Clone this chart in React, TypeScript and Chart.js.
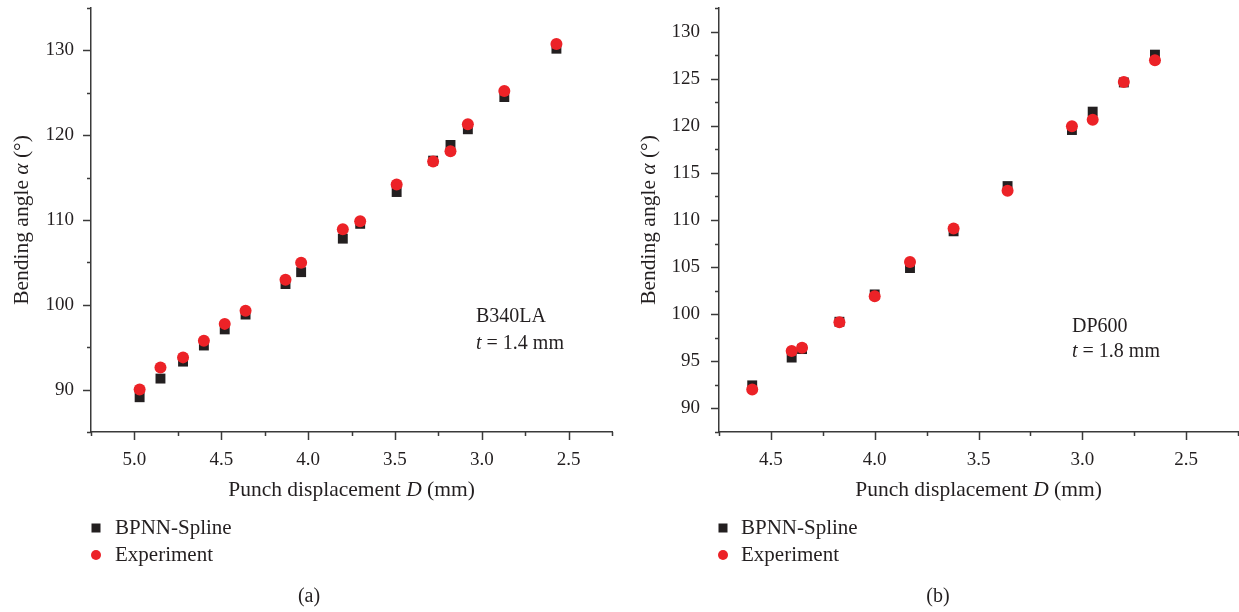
import React, { useEffect, useRef } from 'react';
import { Chart, registerables } from 'chart.js';
Chart.register(...registerables);

// ---------- Data (a) B340LA ----------
const aDisplacement = [4.97, 4.85, 4.72, 4.60, 4.48, 4.36, 4.13, 4.04, 3.80, 3.70, 3.49, 3.28, 3.18, 3.08, 2.87, 2.57];
const aBPNN = [89.1, 91.3, 93.3, 95.2, 97.1, 98.85, 102.45, 103.85, 107.8, 109.55, 113.3, 117.0, 118.85, 120.7, 124.5, 130.2];
const aExperiment = [90.0, 92.6, 93.8, 95.75, 97.75, 99.3, 102.95, 104.95, 108.9, 109.85, 114.2, 116.9, 118.1, 121.3, 125.2, 130.75];

// ---------- Data (b) DP600 ----------
const bDisplacement = [4.59, 4.40, 4.35, 4.17, 4.00, 3.83, 3.62, 3.36, 3.05, 2.95, 2.80, 2.65];
const bBPNN = [92.45, 95.4, 96.3, 99.2, 102.1, 104.9, 108.8, 113.6, 119.55, 121.5, 124.6, 127.55];
const bExperiment = [92.0, 96.1, 96.45, 99.15, 101.9, 105.55, 109.1, 113.1, 119.95, 120.65, 124.65, 126.95];

const seriesNames = ['BPNN-Spline', 'Experiment'];
const xTitle = [{ t: 'Punch displacement ' }, { t: 'D', i: true }, { t: ' (mm)' }];
const yTitle = [{ t: 'Bending angle ' }, { t: 'α', i: true }, { t: ' (°)' }];

const FONT = '"Liberation Serif", "DejaVu Serif", serif';
const TEXT = '#231f20';
const AXIS = '#3a3a3a';
const SQ = '#231f20';
const RED = '#ec2227';

type Seg = { t: string; i?: boolean };

function drawRich(ctx: CanvasRenderingContext2D, segs: Seg[], x: number, y: number, size: number, align: 'center' | 'left') {
  const ws = segs.map((s) => {
    ctx.font = `${s.i ? 'italic ' : ''}${size}px ${FONT}`;
    return ctx.measureText(s.t).width;
  });
  const total = ws.reduce((a, b) => a + b, 0);
  let cx = align === 'center' ? x - total / 2 : x;
  ctx.textAlign = 'left';
  ctx.textBaseline = 'middle';
  segs.forEach((s, k) => {
    ctx.font = `${s.i ? 'italic ' : ''}${size}px ${FONT}`;
    ctx.fillText(s.t, cx, y);
    cx += ws[k];
  });
}

interface PanelCfg {
  xs: number[];
  bp: number[];
  ex: number[];
  xMin: number; xMax: number; xStep: number; xMajor: number;
  yMin: number; yMax: number; yStep: number; yMajor: number;
  width: number;
  canvasWidth: number;
  yAxisWidth: number;
  padRight: number;
  yLabelPad: number;
  yTitleX: number;
  legendX: number;
  legendTextX: number;
  captionX: number;
  caption: string;
  noteX: number;
  noteY1: number;
  noteY2: number;
  noteName: string;
  noteT: string;
}

const isMajor = (v: number, m: number) => Math.abs(v / m - Math.round(v / m)) < 1e-6;

function makePlugin(cfg: PanelCfg) {
  return {
    id: 'decor',
    afterDraw(chart: any) {
      const { ctx, chartArea } = chart;
      const xs = chart.scales.x;
      const ys = chart.scales.y;
      ctx.save();
      // tick marks
      ctx.strokeStyle = AXIS;
      ctx.lineWidth = 1.5;
      xs.ticks.forEach((t: any) => {
        const px = Math.round(xs.getPixelForValue(t.value)) + 0.5;
        const len = isMajor(t.value, cfg.xMajor) ? 8 : 4;
        ctx.beginPath();
        ctx.moveTo(px, chartArea.bottom);
        ctx.lineTo(px, chartArea.bottom + len);
        ctx.stroke();
      });
      ys.ticks.forEach((t: any) => {
        const py = Math.round(ys.getPixelForValue(t.value)) + 0.5;
        const len = isMajor(t.value, cfg.yMajor) ? 8 : 4;
        ctx.beginPath();
        ctx.moveTo(chartArea.left, py);
        ctx.lineTo(chartArea.left - len, py);
        ctx.stroke();
      });
      ctx.fillStyle = TEXT;
      // axis titles
      const cxMid = (chartArea.left + chartArea.right) / 2;
      drawRich(ctx, xTitle, cxMid, 490, 21.5, 'center');
      ctx.save();
      ctx.translate(cfg.yTitleX, (chartArea.top + chartArea.bottom) / 2);
      ctx.rotate(-Math.PI / 2);
      drawRich(ctx, yTitle, 0, 0, 21.5, 'center');
      ctx.restore();
      // annotation
      drawRich(ctx, [{ t: cfg.noteName }], cfg.noteX, cfg.noteY1, 20, 'left');
      drawRich(ctx, [{ t: 't', i: true }, { t: ' = ' + cfg.noteT }], cfg.noteX, cfg.noteY2, 20, 'left');
      // legend
      ctx.fillStyle = SQ;
      ctx.fillRect(cfg.legendX - 4.5, 528 - 4.5, 9, 9);
      ctx.fillStyle = RED;
      ctx.beginPath();
      ctx.arc(cfg.legendX, 555, 5, 0, Math.PI * 2);
      ctx.fill();
      ctx.fillStyle = TEXT;
      drawRich(ctx, [{ t: seriesNames[0] }], cfg.legendTextX, 528, 21, 'left');
      drawRich(ctx, [{ t: seriesNames[1] }], cfg.legendTextX, 555, 21, 'left');
      // caption
      drawRich(ctx, [{ t: cfg.caption }], cfg.captionX, 597, 20, 'center');
      ctx.restore();
    },
  };
}

const zeroPad = (s: any) => {
  s.paddingTop = 0;
  s.paddingBottom = 0;
  s.paddingLeft = 0;
  s.paddingRight = 0;
};

function Panel({ cfg }: { cfg: PanelCfg }) {
  const ref = useRef<HTMLCanvasElement>(null);
  useEffect(() => {
    if (!ref.current) return;
    const chart = new Chart(ref.current, {
      type: 'scatter',
      data: {
        datasets: [
          {
            label: seriesNames[0],
            data: cfg.xs.map((x, k) => ({ x, y: cfg.bp[k] })),
            pointStyle: 'rect',
            pointRadius: 7,
            backgroundColor: SQ,
            borderColor: SQ,
            borderWidth: 0,
            order: 2,
          },
          {
            label: seriesNames[1],
            data: cfg.xs.map((x, k) => ({ x, y: cfg.ex[k] })),
            pointStyle: 'circle',
            pointRadius: 6,
            backgroundColor: RED,
            borderColor: RED,
            borderWidth: 0,
            order: 1,
          },
        ],
      },
      options: {
        responsive: false,
        animation: false,
        layout: { padding: { left: 0, top: 8, right: cfg.padRight, bottom: 612 - 432 - 80 } },
        plugins: { legend: { display: false }, tooltip: { enabled: false } },
        scales: {
          x: {
            type: 'linear',
            reverse: true,
            min: cfg.xMin,
            max: cfg.xMax,
            afterFit: (s: any) => { s.height = 80; zeroPad(s); },
            ticks: {
              stepSize: cfg.xStep,
              autoSkip: false,
              maxRotation: 0,
              padding: 17,
              color: TEXT,
              font: { family: FONT, size: 19 },
              callback: (v: any) => (isMajor(Number(v), cfg.xMajor) ? Number(v).toFixed(1) : ''),
            },
            grid: { display: true, drawOnChartArea: false, drawTicks: false },
            border: { display: true, color: AXIS, width: 1.5 },
          },
          y: {
            type: 'linear',
            min: cfg.yMin,
            max: cfg.yMax,
            afterFit: (s: any) => { s.width = cfg.yAxisWidth; zeroPad(s); },
            ticks: {
              stepSize: cfg.yStep,
              autoSkip: false,
              padding: cfg.yLabelPad,
              color: TEXT,
              font: { family: FONT, size: 19 },
              callback: (v: any) => (isMajor(Number(v), cfg.yMajor) ? String(Math.round(Number(v))) : ''),
            },
            grid: { display: true, drawOnChartArea: false, drawTicks: false },
            border: { display: true, color: AXIS, width: 1.5 },
          },
        },
      },
      plugins: [makePlugin(cfg)],
    } as any);
    return () => chart.destroy();
  }, [cfg]);
  return <canvas ref={ref} width={cfg.canvasWidth} height={612} style={{ display: 'block' }} />;
}

const cfgA: PanelCfg = {
  xs: aDisplacement, bp: aBPNN, ex: aExperiment,
  xMin: 2.25, xMax: 5.25, xStep: 0.25, xMajor: 0.5,
  yMin: 85, yMax: 135, yStep: 5, yMajor: 10,
  width: 620, canvasWidth: 620, yAxisWidth: 91, padRight: 8, yLabelPad: 17,
  yTitleX: 22, legendX: 96, legendTextX: 115, captionX: 309, caption: '(a)',
  noteX: 476, noteY1: 317, noteY2: 344, noteName: 'B340LA', noteT: '1.4 mm',
};

const cfgB: PanelCfg = {
  xs: bDisplacement, bp: bBPNN, ex: bExperiment,
  xMin: 2.25, xMax: 4.75, xStep: 0.25, xMajor: 0.5,
  yMin: 87.5, yMax: 132.5, yStep: 2.5, yMajor: 5,
  width: 619, canvasWidth: 626, yAxisWidth: 99, padRight: 8, yLabelPad: 19,
  yTitleX: 29, legendX: 103, legendTextX: 121, captionX: 318, caption: '(b)',
  noteX: 452, noteY1: 327, noteY2: 352, noteName: 'DP600', noteT: '1.8 mm',
};

export default function App() {
  return (
    <div style={{ position: 'absolute', left: 0, top: 0, width: 1239, height: 612, background: '#fff', overflow: 'hidden' }}>
      <div style={{ position: 'absolute', left: 0, top: 0, width: cfgA.width, height: 612, overflow: 'hidden' }}>
        <Panel cfg={cfgA} />
      </div>
      <div style={{ position: 'absolute', left: 620, top: 0, width: cfgB.width, height: 612, overflow: 'hidden' }}>
        <Panel cfg={cfgB} />
      </div>
    </div>
  );
}
